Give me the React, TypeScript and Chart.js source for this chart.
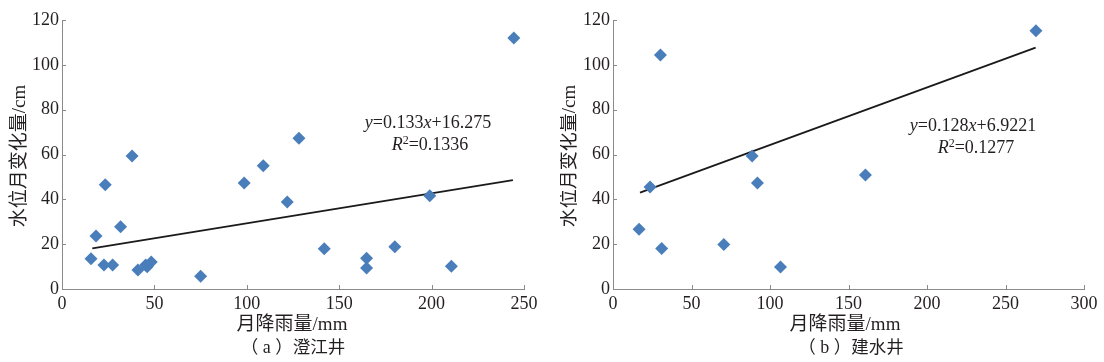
import React, { useEffect, useRef } from 'react';
import { Chart, registerables } from 'chart.js';

Chart.register(...registerables);

// ---------- data ----------
const rainA = [15.7, 18.4, 23.4, 22.7, 27.4, 31.7, 37.9, 41.1, 45.3, 46.1, 48.3, 75.0, 98.6, 108.9, 121.9, 128.2, 141.9, 164.8, 164.8, 180.1, 199.0, 210.7, 244.5];
const levelA = [13.5, 23.6, 46.5, 10.7, 10.7, 27.8, 59.3, 8.5, 10.7, 9.9, 12.0, 5.7, 47.3, 55.0, 38.8, 67.2, 18.0, 13.7, 9.4, 18.9, 41.6, 10.1, 112.0];
const trendAX = [16.4, 244.0];
const trendAY = [18.1, 48.6];

const rainB = [16.6, 23.6, 30.2, 31.0, 70.6, 88.6, 92.0, 106.7, 160.8, 269.4];
const levelB = [26.6, 45.5, 104.4, 18.1, 19.9, 59.3, 47.3, 9.8, 50.9, 115.2];
const trendBX = [17.2, 269.2];
const trendBY = [43.0, 107.7];

const xTicksA = [0, 50, 100, 150, 200, 250];
const xTicksB = [0, 50, 100, 150, 200, 250, 300];
const yTicks = [0, 20, 40, 60, 80, 100, 120];

const eqA = 'y=0.133x+16.275';
const r2A = '0.1336';
const eqB = 'y=0.128x+6.9221';
const r2B = '0.1277';

const yTitle = '水位月变化量/cm';
const xTitle = '月降雨量/mm';
const captionA = ['a', '澄江井'];
const captionB = ['b', '建水井'];

// ---------- styles ----------
const SERIF = '"Liberation Serif", "Times New Roman", "Noto Sans CJK SC", serif';
const MIXED = '"Liberation Serif", "Noto Sans CJK SC", serif';
const CJK = '"Noto Sans CJK SC", sans-serif';
const TEXT = '#231f20';
const AXIS = '#8a8a8a';
const MARK = '#4a7ebb';

type PanelCfg = {
  left: number;
  width: number;
  xTicks: number[];
  rain: number[];
  level: number[];
  tx: number[];
  ty: number[];
  eq: string;
  r2: string;
  caption: string[];
  yAxisW: number;
  padRight: number;
  yTitlePos: [number, number];
  xTitlePos: [number, number];
  capPos: [number, number];
  eqPos: [number, number];
  r2Pos: [number, number];
};

type Run = { t: string; it?: boolean; sup?: boolean; font?: string; size?: number };

function drawRuns(ctx: CanvasRenderingContext2D, runs: Run[], cx: number, by: number) {
  const fontFor = (r: Run) =>
    `${r.it ? 'italic ' : ''}${r.sup ? 12 : r.size || 18}px ${r.font || SERIF}`;
  let total = 0;
  const widths = runs.map((r) => {
    ctx.font = fontFor(r);
    const w = ctx.measureText(r.t).width;
    total += w;
    return w;
  });
  let x = cx - total / 2;
  ctx.textAlign = 'left';
  ctx.textBaseline = 'alphabetic';
  runs.forEach((r, i) => {
    ctx.font = fontFor(r);
    ctx.fillText(r.t, x, r.sup ? by - 6 : by);
    x += widths[i];
  });
}

function eqRuns(s: string) {
  const runs: Run[] = [];
  for (const ch of s) {
    const it = /[a-zA-Z]/.test(ch);
    const last = runs[runs.length - 1];
    if (last && !!last.it === it) last.t += ch;
    else runs.push({ t: ch, it });
  }
  return runs;
}

function Panel({ cfg }: { cfg: PanelCfg }) {
  const ref = useRef<HTMLCanvasElement>(null);
  useEffect(() => {
    const canvas = ref.current;
    if (!canvas) return;
    const textPlugin = {
      id: 'texts',
      afterDraw(chart: any) {
        const ctx: CanvasRenderingContext2D = chart.ctx;
        const { left, bottom } = chart.chartArea;
        ctx.save();
        // inward ticks
        ctx.strokeStyle = AXIS;
        ctx.lineWidth = 1;
        const xs = chart.scales.x;
        const ys = chart.scales.y;
        ctx.beginPath();
        cfg.xTicks.forEach((v) => {
          if (v === 0) return;
          const px = Math.round(xs.getPixelForValue(v)) + 0.5;
          ctx.moveTo(px, bottom);
          ctx.lineTo(px, bottom - 4);
        });
        yTicks.forEach((v) => {
          if (v === 0) return;
          const py = Math.round(ys.getPixelForValue(v)) + 0.5;
          ctx.moveTo(left, py);
          ctx.lineTo(left + 4, py);
        });
        ctx.stroke();

        ctx.fillStyle = TEXT;
        // y title
        ctx.save();
        ctx.translate(cfg.yTitlePos[0], cfg.yTitlePos[1]);
        ctx.rotate(-Math.PI / 2);
        ctx.font = `19px ${MIXED}`;
        ctx.textAlign = 'center';
        ctx.textBaseline = 'middle';
        ctx.fillText(yTitle, 0, 0);
        ctx.restore();
        // x title
        ctx.font = `19px ${MIXED}`;
        ctx.textAlign = 'center';
        ctx.textBaseline = 'middle';
        ctx.fillText(xTitle, cfg.xTitlePos[0], cfg.xTitlePos[1]);
        // caption
        drawRuns(
          ctx,
          [
            { t: '（', font: CJK, size: 17.5 },
            { t: ' ' + cfg.caption[0] + ' ', size: 18 },
            { t: '）' + cfg.caption[1], font: CJK, size: 17.5 },
          ],
          cfg.capPos[0],
          cfg.capPos[1]
        );
        // equation
        drawRuns(ctx, eqRuns(cfg.eq), cfg.eqPos[0], cfg.eqPos[1]);
        drawRuns(ctx, [{ t: 'R', it: true }, { t: '2', sup: true }, { t: '=' + cfg.r2 }], cfg.r2Pos[0], cfg.r2Pos[1]);
        ctx.restore();
      },
    };

    const tickFont = { family: SERIF, size: 18 };
    const chart = new Chart(canvas, {
      type: 'scatter',
      data: {
        datasets: [
          {
            data: cfg.rain.map((x, i) => ({ x, y: cfg.level[i] })),
            pointStyle: 'rectRot',
            pointRadius: 6.5,
            backgroundColor: MARK,
            borderColor: MARK,
            borderWidth: 0,
          },
          {
            data: cfg.tx.map((x, i) => ({ x, y: cfg.ty[i] })),
            showLine: true,
            pointRadius: 0,
            borderColor: '#1a1a1a',
            borderWidth: 1.8,
          },
        ],
      },
      options: {
        responsive: false,
        animation: false,
        layout: { padding: { left: 0, right: cfg.padRight, top: 20, bottom: 0 } },
        plugins: { legend: { display: false }, tooltip: { enabled: false } },
        scales: {
          x: {
            type: 'linear',
            min: 0,
            max: cfg.xTicks[cfg.xTicks.length - 1],
            afterBuildTicks: (s: any) => {
              s.ticks = cfg.xTicks.map((v) => ({ value: v }));
            },
            afterFit: (s: any) => {
              s.height = 73;
            },
            grid: { display: false, drawTicks: false },
            border: { display: true, color: AXIS, width: 1 },
            ticks: { font: tickFont, color: TEXT, padding: 4, maxRotation: 0, autoSkip: false },
          },
          y: {
            type: 'linear',
            min: 0,
            max: 120,
            afterBuildTicks: (s: any) => {
              s.ticks = yTicks.map((v) => ({ value: v }));
            },
            afterFit: (s: any) => {
              s.width = cfg.yAxisW;
            },
            grid: { display: false, drawTicks: false },
            border: { display: true, color: AXIS, width: 1 },
            ticks: { font: tickFont, color: TEXT, padding: 3, autoSkip: false },
          },
        },
      },
      plugins: [textPlugin],
    } as any);
    return () => chart.destroy();
  }, [cfg]);
  return (
    <canvas
      ref={ref}
      width={cfg.width}
      height={362}
      style={{ position: 'absolute', left: cfg.left, top: 0, width: cfg.width, height: 362 }}
    />
  );
}

const cfgA: PanelCfg = {
  left: 0,
  width: 560,
  xTicks: xTicksA,
  rain: rainA,
  level: levelA,
  tx: trendAX,
  ty: trendAY,
  eq: eqA,
  r2: r2A,
  caption: captionA,
  yAxisW: 62,
  padRight: 36,
  yTitlePos: [20, 156],
  xTitlePos: [292, 325],
  capPos: [293, 353],
  eqPos: [428, 128],
  r2Pos: [430, 150],
};

const cfgB: PanelCfg = {
  left: 560,
  width: 544,
  xTicks: xTicksB,
  rain: rainB,
  level: levelB,
  tx: trendBX,
  ty: trendBY,
  eq: eqB,
  r2: r2B,
  caption: captionB,
  yAxisW: 53,
  padRight: 20,
  yTitlePos: [10, 156],
  xTitlePos: [285, 325],
  capPos: [291, 353],
  eqPos: [413, 131],
  r2Pos: [416, 153],
};

export default function App() {
  return (
    <div style={{ position: 'absolute', left: 0, top: 0, width: 1104, height: 362, background: '#fff' }}>
      <Panel cfg={cfgA} />
      <Panel cfg={cfgB} />
    </div>
  );
}
